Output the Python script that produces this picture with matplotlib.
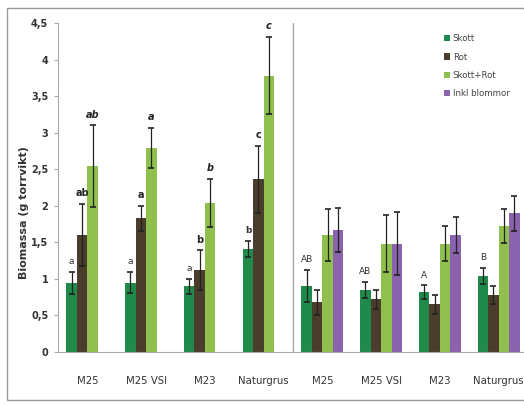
import numpy as np
import matplotlib
matplotlib.use('Agg')
from matplotlib import pyplot as plt
from matplotlib.patches import Rectangle

# Kategorier (vänster: en grupp, höger: en annan)
kategorier = ['M25', 'M25 VSI', 'M23', 'Naturgrus', 'M25', 'M25 VSI', 'M23', 'Naturgrus']
serier = ['Skott', 'Rot', 'Skott+Rot', 'Inkl blommor']
farger = ['#1f8a4a', '#4a3d2b', '#8fc04e', '#8a62ae']

skott = [0.94, 0.95, 0.90, 1.41, 0.90, 0.85, 0.82, 1.04]
skott_fel = [0.15, 0.14, 0.10, 0.11, 0.22, 0.11, 0.09, 0.11]
rot = [1.60, 1.83, 1.12, 2.36, 0.68, 0.72, 0.65, 0.78]
rot_fel = [0.43, 0.17, 0.27, 0.46, 0.17, 0.13, 0.13, 0.12]
skott_rot = [2.54, 2.79, 2.04, 3.78, 1.60, 1.48, 1.48, 1.72]
skott_rot_fel = [0.56, 0.27, 0.33, 0.53, 0.35, 0.39, 0.24, 0.23]
inkl_blommor = [np.nan, np.nan, np.nan, np.nan, 1.67, 1.48, 1.60, 1.90]
inkl_blommor_fel = [0, 0, 0, 0, 0.30, 0.43, 0.24, 0.24]

# Bokstäver ovanför staplarna
bokst_skott = ['a', 'a', 'a', 'b', 'AB', 'AB', 'A', 'B']
bokst_rot = ['ab', 'a', 'b', 'c', '', '', '', '']
bokst_skott_rot = ['ab', 'a', 'b', 'c', '', '', '', '']

varden = [skott, rot, skott_rot, inkl_blommor]
fel = [skott_fel, rot_fel, skott_rot_fel, inkl_blommor_fel]

fig = plt.figure(figsize=(5.24, 4.05), dpi=100)
ax = fig.add_axes([58 / 524, 53 / 405, 470 / 524, 329 / 405])

x = np.arange(len(kategorier))
w = 0.178
for i, (namn, v, e, c) in enumerate(zip(serier, varden, fel, farger)):
    pos = x + (i - 1.5) * w
    v = np.array(v, dtype=float)
    e = np.array(e, dtype=float)
    ax.bar(pos, v, width=w, color=c, label=namn, zorder=2)
    ok = ~np.isnan(v)
    ax.errorbar(pos[ok], v[ok], yerr=e[ok], fmt='none', ecolor='#222222',
                elinewidth=0.9, capsize=2.5, capthick=1.2, zorder=3)

# bokstäver
for j in range(len(kategorier)):
    ax.text(x[j] - 1.5 * w, skott[j] + skott_fel[j] + 0.08, bokst_skott[j],
            ha='center', va='bottom', fontsize=6.5, color='#333333',
            fontweight='bold' if j == 3 else 'normal')
    if bokst_rot[j]:
        ax.text(x[j] - 0.5 * w, rot[j] + rot_fel[j] + 0.08, bokst_rot[j],
                ha='center', va='bottom', fontsize=7, fontweight='bold', color='#222222')
    if bokst_skott_rot[j]:
        ax.text(x[j] + 0.5 * w, skott_rot[j] + skott_rot_fel[j] + 0.08, bokst_skott_rot[j],
                ha='center', va='bottom', fontsize=7, fontweight='bold',
                fontstyle='italic', color='#222222')

# skiljelinje mellan grupperna
ax.axvline(3.5, color='#aaaaaa', linewidth=1.0, zorder=1)

ax.set_xlim(-0.5, len(kategorier) - 0.5)
ax.set_ylim(0, 4.5)
ax.set_yticks(np.arange(0, 4.51, 0.5))
ax.set_yticklabels([('%g' % t).replace('.', ',') for t in np.arange(0, 4.51, 0.5)],
                   fontsize=7, fontweight='bold', color='#333333')
ax.set_xticks(x)
ax.set_xticklabels(kategorier, fontsize=7.3, color='#333333')
ax.tick_params(axis='x', length=0, pad=17)
ax.tick_params(axis='y', length=3, color='#aaaaaa', pad=4)
for s in ['top', 'right']:
    ax.spines[s].set_visible(False)
ax.spines['left'].set_color('#aaaaaa')
ax.spines['bottom'].set_color('#aaaaaa')

fig.text(24 / 524, 1 - 213 / 405, 'Biomassa (g torrvikt)', rotation=90,
         ha='center', va='center', fontsize=8, fontweight='bold', color='#333333')

leg = ax.legend(loc='upper left', bbox_to_anchor=(0.805, 0.99), frameon=False,
                fontsize=6.2, handlelength=0.7, handleheight=0.7, handletextpad=0.3,
                labelspacing=1.1, labelcolor='#444444')

# ram runt diagrammet
fig.patches.append(Rectangle((7 / 524, 5 / 405), 520 / 524, 392 / 405, fill=False,
                             edgecolor='#999999', linewidth=1.0,
                             transform=fig.transFigure, figure=fig))

plt.savefig('out.png', dpi=100)
